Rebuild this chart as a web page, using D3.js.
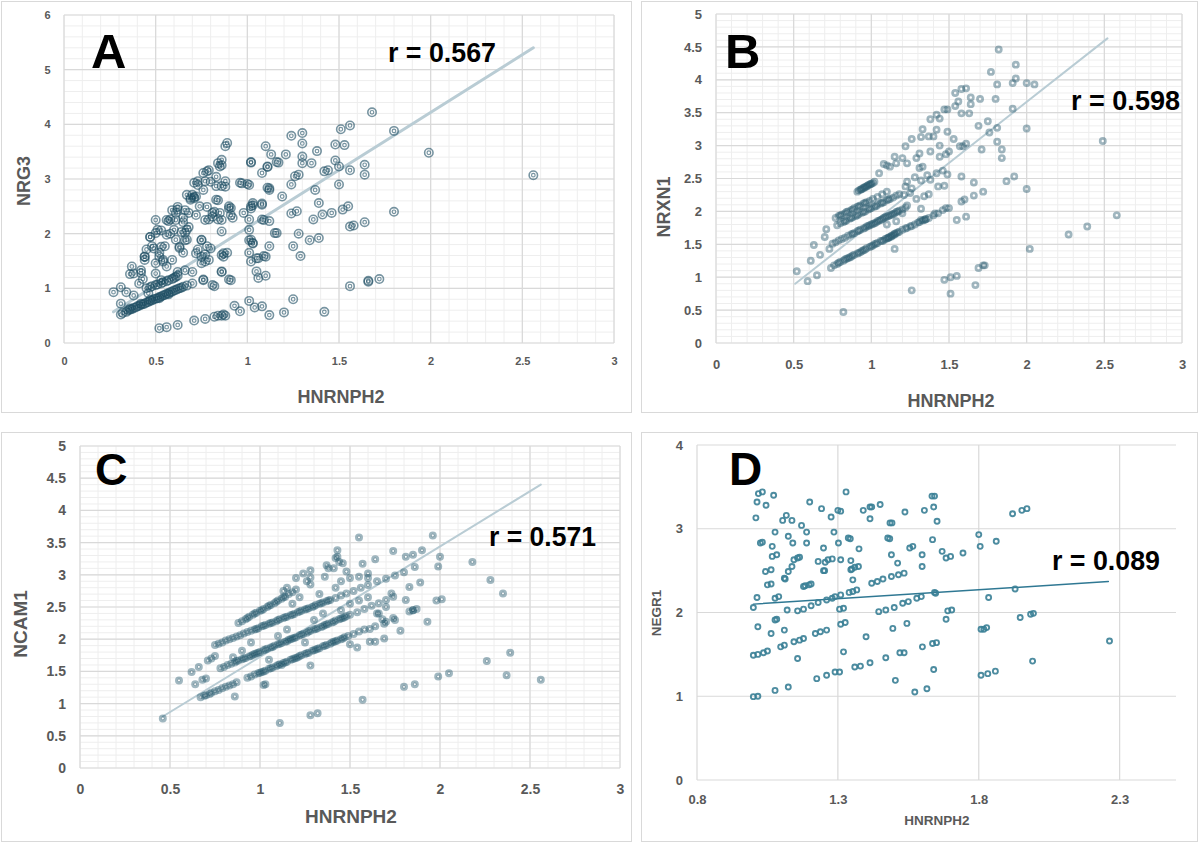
<!DOCTYPE html>
<html><head><meta charset="utf-8">
<script src="https://cdn.jsdelivr.net/npm/d3@7"></script>
<style>body{margin:0;background:#fff;}svg{display:block;}</style>
</head><body>
<svg id="chart" width="1200" height="842"></svg>
<script>
// ---------------- DATA ----------------
const xLabel = "HNRNPH2";
const yLabelA = "NRG3", yLabelB = "NRXN1", yLabelC = "NCAM1", yLabelD = "NEGR1";
const rA = "r = 0.567", rB = "r = 0.598", rC = "r = 0.571", rD = "r = 0.089";

const xTicksABC = [0,0.5,1,1.5,2,2.5,3];
const xTickLabelsABC = ["0","0.5","1","1.5","2","2.5","3"];
const yTicksA = [0,1,2,3,4,5,6];
const yTickLabelsA = ["0","1","2","3","4","5","6"];
const yTicksBC = [0,0.5,1,1.5,2,2.5,3,3.5,4,4.5,5];
const yTickLabelsBC = ["0","0.5","1","1.5","2","2.5","3","3.5","4","4.5","5"];
const xTicksD = [0.8,1.3,1.8,2.3];
const xTickLabelsD = ["0.8","1.3","1.8","2.3"];
const yTicksD = [0,1,2,3,4];
const yTickLabelsD = ["0","1","2","3","4"];

const trendA = [[0.27,0.57],[2.56,5.40]];
const trendB = [[0.51,0.90],[2.52,4.63]];
const trendC = [[0.46,0.80],[2.56,4.40]];
const trendD = [[1.00,2.10],[2.26,2.37]];

const pointsA = [
[0.52,0.27],[0.56,0.29],[0.62,0.33],[0.71,0.41],[0.77,0.44],[0.82,0.48],[0.84,0.5],[0.86,0.5],[0.87,0.52],[0.88,0.5],[0.93,0.68],[0.96,0.58],[1.01,0.77],[1.04,0.65],[1.08,0.67],[1.12,0.51],[1.2,0.56],[1.25,0.8],[1.42,0.57],
[0.31,0.52],[0.32,0.55],[0.34,0.57],[0.35,0.6],[0.36,0.61],[0.37,0.62],[0.38,0.64],[0.39,0.65],[0.4,0.67],[0.41,0.68],[0.42,0.7],[0.43,0.71],[0.44,0.72],[0.45,0.74],[0.46,0.75],[0.47,0.77],[0.48,0.78],[0.49,0.8],[0.5,0.81],[0.51,0.82],[0.52,0.84],[0.53,0.85],[0.54,0.87],[0.55,0.88],[0.56,0.9],[0.57,0.91],[0.58,0.93],[0.59,0.94],[0.6,0.96],[0.61,0.97],[0.63,1.0],[0.64,1.01],[0.65,1.03],[0.67,1.05],[0.36,0.63],[0.42,0.72],[0.47,0.79],[0.52,0.82],[0.57,0.89],[0.62,0.99],[0.31,0.72],
[0.45,1.0],[0.47,1.02],[0.48,1.04],[0.5,1.06],[0.51,1.07],[0.53,1.09],[0.54,1.11],[0.56,1.13],[0.57,1.15],[0.59,1.17],[0.6,1.19],[0.61,1.21],[0.62,1.23],
[0.27,0.93],[0.31,1.02],[0.34,0.93],[0.37,1.40],[0.36,1.26],[0.38,0.87],[0.42,1.28],[0.43,1.17],[0.44,1.52],[0.44,1.58],[0.45,1.71],[0.47,1.94],[0.48,1.77],[0.50,2.01],[0.51,2.07],[0.52,1.65],[0.50,1.46],[0.54,1.52],[0.55,1.77],[0.56,1.98],[0.57,2.23],[0.58,2.26],[0.60,2.07],[0.61,2.38],[0.62,2.44],[0.61,1.89],[0.63,1.74],[0.65,1.65],[0.67,1.89],[0.66,2.01],[0.67,2.07],[0.65,2.29],[0.68,2.38],[0.69,2.62],[0.70,2.71],[0.71,2.65],[0.72,2.68],[0.71,2.93],[0.73,2.96],[0.74,2.5],[0.76,2.80],[0.77,2.96],[0.76,3.11],[0.78,3.14],[0.75,1.89],[0.73,1.71],[0.77,1.62],[0.75,1.46],[0.79,1.52],[0.78,1.77],[0.79,2.26],[0.81,2.38],[0.82,1.04],[0.76,1.16],[0.83,2.62],[0.83,2.87],[0.84,3.29],[0.85,3.23],[0.86,3.35],[0.88,3.60],[0.89,3.66],[0.86,2.87],[0.88,2.96],[0.85,2.38],[0.84,2.26],[0.86,2.04],[0.89,1.65],[0.87,1.58],[0.86,1.31],[0.90,1.16],[0.90,2.5],[0.91,2.47],[0.92,2.29],[0.96,2.93],[1.00,2.91],[0.98,2.38],[1.01,2.07],[1.02,1.89],[1.01,1.65],[1.02,1.49],[1.05,1.31],[1.06,1.19],[1.10,1.23],[1.09,1.59],[1.05,1.55],[1.03,1.83],[1.01,2.26],[1.02,2.5],[1.03,2.56],[1.08,2.53],[1.08,2.26],[1.12,2.23],[1.11,2.84],[1.12,2.80],[1.08,3.11],[1.11,3.23],[1.13,3.45],[1.10,3.60],[1.02,3.30],[1.12,1.77],[1.15,2.01],[1.17,3.30],[1.19,2.68],[1.21,3.45],[1.24,2.37],[1.24,2.90],[1.26,3.05],[1.28,3.08],[1.24,3.79],[1.30,3.84],[1.30,3.65],[1.30,3.41],[1.30,3.29],[1.27,2.41],[1.25,1.77],[1.28,2.0],[1.29,1.59],[1.34,1.88],[1.36,2.26],[1.37,2.80],[1.35,3.29],[1.38,3.51],[1.39,2.56],[1.39,1.92],[1.41,2.35],[1.42,3.14],[1.44,3.16],[1.46,2.38],[1.48,3.63],[1.48,3.34],[1.50,3.23],[1.50,2.90],[1.51,3.91],[1.56,3.98],[1.53,3.62],[1.52,2.44],[1.55,2.5],[1.56,3.16],[1.56,2.13],[1.58,2.15],[1.56,1.04],[1.64,2.21],[1.64,3.26],[1.64,3.08],[1.66,1.12],[1.66,1.14],[1.72,1.17],[1.68,4.22],[1.80,3.88],[1.80,2.40],[1.99,3.48],[2.56,3.07],
[0.38,1.27],[0.41,1.09],[0.44,1.58],[0.47,1.94],[0.49,1.73],[0.52,1.58],[0.53,1.76],[0.54,1.49],[0.56,2.25],[0.58,2.00],[0.59,2.43],[0.61,2.25],[0.63,1.76],[0.64,2.03],[0.66,1.88],[0.67,2.71],[0.69,2.65],[0.71,2.67],[0.72,2.34],[0.68,2.12],[0.65,2.21],[0.62,2.49],[0.56,1.40],[0.59,1.52],[0.62,1.30],[0.66,1.33],[0.70,1.30],[0.72,1.64],[0.75,1.88],[0.77,2.25],[0.78,2.49],[0.73,2.89],[0.79,3.16],[0.80,2.95],[0.83,3.04],[0.86,3.25],[0.88,2.86],[0.82,2.40],[0.84,2.61],[0.75,1.58],[0.80,1.73],[0.77,1.49],[0.50,1.27],[0.53,1.15],[0.46,0.91],[0.42,1.33],[0.53,2.06],[0.50,2.25],[0.66,2.43],[0.81,2.31],[0.86,2.25],[0.90,2.46],[0.91,2.34],[0.97,2.92],[1.01,2.89],[1.02,2.46],[1.03,2.52],[1.08,2.55],[1.09,2.25],[1.12,2.83],[1.11,3.22],[1.16,3.31],[1.02,3.31],[1.01,1.88],[1.03,1.82],[1.06,1.55],[1.10,1.58],[1.16,2.01],[0.86,1.61],[0.87,1.64],[0.86,1.30],[0.91,1.15],[0.81,1.06],[0.76,1.15],[0.70,1.09]
];

const pointsB = [
[0.52,1.09],[0.59,0.94],[0.65,1.03],[0.61,1.25],[0.63,1.49],[0.67,1.34],[0.73,1.43],[0.71,1.73],[0.70,1.61],[0.74,1.14],[0.82,0.47],[1.26,0.80],[1.47,0.96],[1.51,1.00],[1.55,1.02],[1.51,0.75],[1.67,0.88],[1.69,1.14],[1.72,1.18],[1.73,1.18],
[1.15,1.43],[1.10,1.80],[1.16,1.85],[1.20,1.97],[1.23,2.09],[1.21,2.25],[1.32,2.04],[1.35,1.88],[1.41,1.97],[1.34,2.23],[1.37,2.26],[1.43,2.38],[1.47,2.39],[1.49,2.56],[1.46,2.62],[1.42,2.58],[1.38,2.48],[1.32,2.47],[1.29,2.19],[1.23,2.45],[1.22,2.38],[1.16,2.73],[1.12,2.68],[1.10,2.70],[1.15,2.83],[1.20,2.81],[1.23,2.73],[1.22,2.99],[1.26,3.10],[1.29,2.81],[1.31,2.88],[1.31,2.66],[1.33,2.68],[1.33,3.25],[1.32,3.13],[1.38,2.91],[1.37,3.14],[1.40,3.14],[1.42,3.24],[1.44,3.00],[1.44,2.83],[1.48,2.87],[1.50,2.91],[1.49,3.21],[1.44,3.41],[1.38,3.40],[1.42,3.47],[1.47,3.55],[1.49,3.55],[1.54,3.60],[1.53,3.10],[1.57,2.99],[1.59,2.99],[1.61,3.03],[1.54,3.80],[1.58,3.86],[1.61,3.87],[1.56,3.67],[1.58,3.49],[1.63,3.49],[1.64,3.63],[1.64,3.73],[1.70,3.71],[1.80,3.71],[1.69,3.30],[1.76,3.20],[1.75,3.37],[1.81,3.27],[1.71,2.94],[1.81,3.06],[1.84,2.94],[1.84,2.81],[1.77,4.12],[1.82,4.46],[1.81,3.93],[1.91,3.95],[1.93,4.23],[1.93,4.02],[2.00,3.95],[2.05,3.93],[1.91,3.56],[2.00,3.26],[1.87,2.46],[1.92,2.53],[2.00,2.34],[2.02,1.43],[2.27,1.65],[2.39,1.77],[2.49,3.07],[2.58,1.94],[1.66,2.44],[1.66,2.24],[1.72,2.30],[1.58,2.53],[1.58,2.15],[1.60,2.18],[1.55,1.87],[1.61,1.92],[1.48,2.05],[1.50,2.05],[1.32,1.87],[1.28,2.52],[1.26,2.35],[1.36,2.55],[1.05,2.58],[1.08,2.72],[1.25,2.28],
[0.76,1.18],[0.78,1.2],[0.80,1.23],[0.82,1.25],[0.83,1.27],[0.85,1.29],[0.86,1.3],[0.88,1.33],[0.89,1.34],[0.91,1.36],[0.92,1.37],[0.94,1.4],[0.96,1.42],[0.97,1.44],[0.99,1.46],[1.00,1.47],[1.02,1.5],[1.04,1.52],[1.06,1.55],[1.08,1.56],[1.10,1.59],[1.12,1.61],[1.13,1.63],[1.14,1.64],[1.15,1.65],[1.16,1.67],[1.17,1.68],[1.20,1.72],[1.23,1.75],[1.26,1.78],[1.28,1.80],[1.30,1.83],[1.33,1.86],[1.35,1.88],[1.37,1.9],[1.40,1.94],[1.43,1.97],[1.46,2.02],[0.84,1.28],[0.93,1.38],[1.01,1.48],[1.11,1.6],
[0.79,1.22],[0.87,1.31],[0.95,1.41],[1.03,1.51],[1.07,1.55],[1.09,1.58],[1.11,1.6],[1.13,1.62],[1.15,1.66],[1.18,1.69],[1.22,1.74],[1.25,1.77],[1.31,1.84],[1.34,1.87],
[0.75,1.51],[0.77,1.53],[0.79,1.56],[0.81,1.58],[0.83,1.6],[0.85,1.63],[0.87,1.65],[0.89,1.67],[0.91,1.7],[0.93,1.72],[0.95,1.74],[0.97,1.77],[0.99,1.79],[1.0,1.8],[1.02,1.82],[1.04,1.85],[1.06,1.87],[1.08,1.9],[1.1,1.92],[1.12,1.94],[1.14,1.96],[1.16,1.99],[1.18,2.01],[1.2,2.03],[1.22,2.06],[1.01,1.81],[1.05,1.86],[1.09,1.91],
[0.88,1.66],[0.92,1.71],[0.96,1.75],[0.98,1.78],[1.03,1.83],[1.07,1.88],[1.11,1.93],[1.13,1.95],[1.15,1.97],[1.17,2.0],
[0.78,1.79],[0.8,1.82],[0.82,1.84],[0.84,1.86],[0.86,1.89],[0.88,1.91],[0.9,1.93],[0.92,1.96],[0.94,1.98],[0.96,2.0],[0.98,2.03],[1.0,2.05],[1.02,2.07],[1.04,2.1],[1.06,2.12],[1.08,2.14],[1.1,2.17],[1.12,2.19],[1.14,2.21],[1.16,2.24],[1.18,2.26],
[0.83,1.85],[0.87,1.9],[0.91,1.94],[0.95,1.99],[0.99,2.04],[1.03,2.08],[1.07,2.13],[1.11,2.18],
[0.77,1.9],[0.79,1.93],[0.81,1.95],[0.83,1.97],[0.85,2.0],[0.87,2.02],[0.89,2.05],[0.91,2.07],[0.93,2.09],[0.95,2.12],[0.97,2.14],[0.99,2.16],[1.01,2.19],[1.04,2.22],[1.07,2.26],[1.1,2.3],
[0.8,1.94],[0.84,1.99],[0.88,2.03],[0.92,2.08],[0.96,2.13],
[0.91,2.3],[0.92,2.32],[0.93,2.33],[0.94,2.34],[0.95,2.36],[0.96,2.37],[0.97,2.38],[0.98,2.4],[0.99,2.41],[1.0,2.42],[1.01,2.43],[1.02,2.45],
[0.935,2.335],[0.955,2.36],[0.975,2.39],[0.995,2.415]
];

const pointsC = [
[0.46,0.77],[0.55,1.36],[0.64,1.30],[0.62,1.49],[0.66,1.57],[0.86,1.11],[1.11,0.70],[1.28,0.82],[1.32,0.85],[1.28,1.59],[1.57,1.06],[1.54,1.87],[1.50,1.92],[1.55,3.58],[1.96,3.61],[1.80,1.26],[1.86,1.30],[1.99,1.42],[2.05,1.47],[2.26,1.66],[2.39,1.79],[2.37,1.44],[2.56,1.37],[2.35,2.71],[2.28,2.92],[2.18,3.20],[2.00,3.28],[1.99,3.13],[2.01,2.62],[1.98,2.60],[1.93,2.27],[1.89,2.88],[1.90,3.38],[1.86,3.12],[1.83,2.81],[1.85,3.31],[1.81,3.28],[1.74,3.37],[1.78,2.13],[1.81,2.61],[1.85,2.45],[1.69,2.01],[1.64,1.96],[1.61,1.96],[1.64,3.24],[1.57,3.17],[1.55,2.97],[1.60,3.02],[1.43,3.38],[1.43,3.28],[1.46,3.18],[1.41,3.10],[1.37,3.15],[1.36,2.97],[1.28,3.07],[1.24,3.02],[1.28,2.96],[1.48,3.05],[1.73,2.71],[1.68,2.31],[1.66,2.40],[1.69,2.24],[1.03,1.30],[1.02,1.29],
[0.67,1.1],[0.69,1.12],[0.7,1.13],[0.72,1.15],[0.73,1.17],[0.75,1.19],[0.77,1.21],[0.79,1.24],[0.81,1.26],[0.83,1.28],[0.85,1.3],[0.87,1.33],[0.93,1.4],[0.95,1.42],[0.97,1.45],[0.99,1.47],[1.01,1.49],[1.03,1.51],[1.05,1.54],[1.07,1.56],[1.09,1.58],[1.11,1.61],[1.13,1.63],[1.15,1.65],[1.17,1.68],[1.19,1.7],[1.21,1.72],[1.23,1.75],[1.25,1.77],[1.27,1.79],[1.29,1.82],[1.31,1.84],[1.33,1.86],[1.35,1.89],[1.37,1.91],[1.39,1.93],[1.41,1.96],[1.43,1.98],[1.45,2.0],[1.47,2.03],[1.49,2.05],[1.52,2.08],[1.55,2.12],[1.58,2.15],[1.61,2.16],[1.64,2.2],[1.7,2.27],[1.74,2.33],[1.83,2.43],[1.85,2.45],[1.87,2.47],[1.0,1.48],[1.12,1.6],[1.2,1.71],[1.3,1.83],[1.4,1.95],
[1.02,1.5],[1.06,1.55],[1.1,1.6],[1.14,1.64],[1.18,1.69],[1.22,1.74],[1.26,1.78],[1.32,1.85],[1.36,1.9],[1.42,1.97],[1.46,2.01],
[0.78,1.55],[0.8,1.57],[0.82,1.6],[0.84,1.62],[0.86,1.64],[0.88,1.67],[0.9,1.69],[0.92,1.71],[0.94,1.73],[0.96,1.76],[0.98,1.78],[1.0,1.8],[1.02,1.83],[1.04,1.85],[1.06,1.87],[1.08,1.9],[1.1,1.92],[1.12,1.94],[1.14,1.96],[1.16,1.99],[1.18,2.01],[1.2,2.03],[1.22,2.06],[1.24,2.08],[1.26,2.1],[1.28,2.13],[1.3,2.15],[1.32,2.17],[1.34,2.19],[1.36,2.22],[1.38,2.24],[1.4,2.26],[1.42,2.29],[1.44,2.31],[1.46,2.33],[1.48,2.36],[1.5,2.38],[1.54,2.42],[1.58,2.47],[1.62,2.52],[1.66,2.56],[1.7,2.61],[1.74,2.66],[0.97,1.77],[1.07,1.88],[1.17,2.0],[1.27,2.12],[1.37,2.23],
[0.87,1.66],[0.91,1.7],[0.95,1.74],[0.99,1.79],[1.03,1.84],[1.11,1.93],[1.15,1.97],[1.19,2.02],[1.23,2.07],[1.31,2.16],[1.35,2.2],[1.41,2.27],[1.45,2.32],[1.47,2.34],
[0.75,1.91],[0.77,1.93],[0.79,1.95],[0.81,1.98],[0.83,2.0],[0.85,2.02],[0.87,2.04],[0.89,2.06],[0.91,2.09],[0.93,2.11],[0.95,2.13],[0.97,2.15],[0.99,2.17],[1.01,2.2],[1.03,2.22],[1.05,2.24],[1.07,2.26],[1.09,2.28],[1.11,2.31],[1.13,2.33],[1.15,2.35],[1.17,2.37],[1.19,2.39],[1.21,2.42],[1.23,2.44],[1.25,2.46],[1.27,2.48],[1.29,2.5],[1.31,2.53],[1.33,2.55],[1.35,2.57],[1.37,2.59],[1.39,2.61],[1.42,2.64],[1.45,2.68],[1.48,2.71],[1.52,2.75],[1.56,2.8],[1.6,2.84],[1.65,2.9],[1.7,2.94],[1.75,2.99],[1.8,3.04],
[0.98,2.16],[1.02,2.21],[1.06,2.25],[1.1,2.3],[1.14,2.34],[1.18,2.38],[1.22,2.43],[1.26,2.47],[1.3,2.51],[1.34,2.56],[1.38,2.6],
[0.88,2.25],[0.9,2.28],[0.92,2.31],[0.94,2.35],[0.96,2.38],[0.98,2.41],[1.0,2.44],[1.02,2.47],[1.04,2.5],[1.06,2.53],[1.08,2.56],[1.1,2.6],[1.12,2.63],[1.14,2.66],[1.16,2.7],[1.18,2.73],[1.2,2.77],
[0.93,2.33],[0.97,2.4],[1.01,2.45],[1.05,2.52],[1.09,2.58],[1.13,2.65],
[0.68,1.37],[0.7,1.39],[0.71,1.67],[0.73,1.7],[0.75,1.74],[0.85,1.72],[0.9,1.82],[0.95,1.95],[1.05,1.68],[1.1,2.05],[1.15,2.15],[1.25,1.95],[1.3,2.3],[1.35,2.4],[1.45,2.45],[1.5,2.55],[1.55,2.6],[1.28,2.85],[1.33,2.7],[1.42,2.8],[1.45,2.9],[1.5,2.95],[1.6,2.65],[1.65,2.4],[1.7,2.5],[1.75,2.3],[1.6,2.95],[1.18,2.55],[1.22,2.65],[1.13,2.75],[1.15,2.8],[1.2,2.95],[1.26,2.9],[1.38,3.1],[1.44,3.2],[1.42,3.26]
];

const pointsD = [
[1.0,0.995],[1.016,1.0],[1.077,1.07],[1.124,1.11],[1.225,1.21],[1.26,1.25],[1.29,1.29],[1.306,1.29],[1.36,1.35],[1.38,1.36],[1.414,1.40],[1.47,1.46],[1.52,1.52],[1.535,1.52],[1.60,1.59],[1.636,1.63],[1.65,1.64],
[1.0,1.49],[1.016,1.50],[1.036,1.52],[1.05,1.54],[1.097,1.59],[1.11,1.61],[1.144,1.65],[1.164,1.67],[1.178,1.69],[1.22,1.75],[1.238,1.77],[1.26,1.79],[1.31,1.86],[1.326,1.88],[1.445,2.01],[1.47,2.03],[1.50,2.06],[1.53,2.11],[1.55,2.13],[1.58,2.17],[1.596,2.19],[1.643,2.24],
[1.016,1.83],[1.077,1.91],[1.083,1.92],[1.157,2.02],[1.178,2.04],[1.205,2.08],[1.23,2.12],[1.26,2.15],[1.28,2.17],[1.29,2.19],[1.31,2.21],[1.34,2.24],[1.353,2.25],[1.367,2.27],[1.42,2.35],[1.44,2.37],[1.46,2.40],[1.49,2.43],[1.515,2.45],[1.535,2.47],
[1.05,2.33],[1.063,2.34],[1.043,2.49],[1.063,2.51],[1.11,2.41],[1.124,2.49],[1.137,2.55],[1.144,2.63],[1.157,2.65],[1.164,2.66],[1.178,2.31],[1.184,2.32],[1.198,2.33],[1.205,2.34],[1.255,2.60],[1.265,2.63],[1.28,2.64],[1.346,2.51],[1.36,2.54],[1.373,2.55],[1.346,2.62],
[1.009,3.13],[1.013,3.32],[1.018,3.42],[1.032,3.44],[1.025,2.83],[1.032,2.84],[1.045,3.28],[1.072,3.40],[1.077,2.96],[1.067,2.79],[1.067,2.67],[1.083,2.69],[1.063,1.75],[1.11,1.79],[1.104,3.10],[1.117,3.16],[1.124,2.91],[1.137,3.10],[1.14,2.83],[1.171,3.04],[1.189,2.96],[1.189,2.83],[1.20,3.32],[1.157,1.45],
[1.242,3.24],[1.249,2.77],[1.253,2.50],[1.276,3.14],[1.286,2.96],[1.30,3.22],[1.31,3.21],[1.302,2.83],[1.306,2.04],[1.32,2.05],[1.32,1.53],[1.329,3.44],[1.337,2.89],[1.344,2.88],[1.35,2.52],[1.353,2.39],[1.375,2.76],[1.39,3.22],[1.40,1.71],[1.414,3.26],[1.42,3.26],[1.414,3.12],[1.45,3.29],[1.485,3.07],[1.492,3.07],[1.477,2.89],[1.484,2.88],[1.49,2.69],[1.495,1.81],[1.504,1.19],[1.512,2.59],[1.538,3.20],[1.545,1.87],[1.555,2.77],[1.566,2.79],[1.573,1.05],[1.599,2.69],[1.599,2.55],[1.607,3.22],[1.616,1.09],[1.634,3.39],[1.64,3.26],[1.643,3.39],[1.636,2.87],[1.64,1.32],[1.647,2.23],[1.652,3.09],[1.67,2.73],[1.684,2.65],[1.684,1.92],[1.69,2.02],[1.70,2.67],[1.704,2.03],[1.744,2.71],[1.80,2.93],[1.805,2.79],[1.808,1.80],[1.818,1.80],[1.828,1.82],[1.808,1.25],[1.832,1.27],[1.859,1.30],[1.835,2.18],[1.862,2.85],[1.92,3.18],[1.953,3.22],[1.971,3.24],[1.929,2.28],[1.947,1.94],[1.984,1.98],[1.994,1.99],[1.991,1.42],[2.264,1.66],
[1.0,2.06],[1.013,2.18],[1.113,2.40],[1.077,2.17],[1.09,2.19],[1.249,2.50],[1.31,2.63],[1.12,2.03],[1.23,2.61]
];

// ---------------- LAYOUT / STYLE ----------------
const svg = d3.select("#chart");
const FONT = "'Liberation Sans', Arial, sans-serif";
const GREY = "#595959";

const panels = [
 {frame:[1,1,631,412], left:64, right:614, top:15, bottom:343, xDom:[0,3], yDom:[0,6],
  xT:xTicksABC, xL:xTickLabelsABC, yT:yTicksA, yL:yTickLabelsA, minorX:0.1, minorY:0.2,
  tickFont:11, xBase:22, yPad:13.5, data:pointsA, trend:trendA, marker:"double",
  trendColor:"#b9ccd4", trendW:3,
  xTitle:{x:341,y:403,size:18}, yTitle:{x:30,y:181,size:18,text:yLabelA},
  letter:{t:"A",x:91,y:68,size:49}, r:{t:rA,x:388,y:62,len:108}},
 {frame:[641,1,1197,412], left:716, right:1182, top:14, bottom:343, xDom:[0,3], yDom:[0,5],
  xT:xTicksABC, xL:xTickLabelsABC, yT:yTicksBC, yL:yTickLabelsBC, minorX:0.1, minorY:0.1,
  tickFont:13, xBase:26, yPad:14, data:pointsB, trend:trendB, marker:"ringB",
  trendColor:"#b9ccd4", trendW:2,
  xTitle:{x:951,y:407,size:18}, yTitle:{x:670,y:207,size:18,text:yLabelB},
  letter:{t:"B",x:725,y:68,size:49}, r:{t:rB,x:1071,y:110,len:109}},
 {frame:[1,432,631,841], left:80, right:620, top:446, bottom:768, xDom:[0,3], yDom:[0,5],
  xT:xTicksABC, xL:xTickLabelsABC, yT:yTicksBC, yL:yTickLabelsBC, minorX:0.1, minorY:0.1,
  tickFont:14, xBase:26, yPad:14, data:pointsC, trend:trendC, marker:"ringC",
  trendColor:"#b9ccd4", trendW:2,
  xTitle:{x:351,y:823,size:19}, yTitle:{x:27,y:624,size:19,text:yLabelC},
  letter:{t:"C",x:95,y:485,size:45}, r:{t:rC,x:489,y:546,len:107}},
 {frame:[641,432,1197,841], left:697, right:1176, top:445, bottom:780, xDom:[0.8,2.5], yDom:[0,4],
  xT:xTicksD, xL:xTickLabelsD, yT:yTicksD, yL:yTickLabelsD, minorX:null, minorY:null,
  tickFont:13, xBase:24, yPad:14, data:pointsD, trend:trendD, marker:"ringD",
  trendColor:"#2f7893", trendW:1.5,
  xTitle:{x:937,y:825,size:13.5}, yTitle:{x:661,y:613,size:13.5,text:yLabelD},
  letter:{t:"D",x:729,y:485,size:46}, r:{t:rD,x:1052,y:570,len:108}}
];

panels.forEach(p => {
  const g = svg.append("g");
  const [fx0,fy0,fx1,fy1] = p.frame;
  g.append("rect").attr("x",fx0+0.5).attr("y",fy0+0.5).attr("width",fx1-fx0).attr("height",fy1-fy0)
    .attr("fill","#fff").attr("stroke","#d9d9d9").attr("stroke-width",1);

  const x = d3.scaleLinear().domain(p.xDom).range([p.left,p.right]);
  const y = d3.scaleLinear().domain(p.yDom).range([p.bottom,p.top]);

  if (p.minorX) {
    const mx = d3.range(Math.round((p.xDom[1]-p.xDom[0])/p.minorX)+1).map(i => p.xDom[0]+i*p.minorX);
    g.selectAll(null).data(mx).join("line")
      .attr("x1",d=>x(d)).attr("x2",d=>x(d)).attr("y1",p.top).attr("y2",p.bottom)
      .attr("stroke","#eeeeee").attr("stroke-width",1);
  }
  if (p.minorY) {
    const my = d3.range(Math.round((p.yDom[1]-p.yDom[0])/p.minorY)+1).map(i => p.yDom[0]+i*p.minorY);
    g.selectAll(null).data(my).join("line")
      .attr("y1",d=>y(d)).attr("y2",d=>y(d)).attr("x1",p.left).attr("x2",p.right)
      .attr("stroke","#eeeeee").attr("stroke-width",1);
  }
  g.selectAll(null).data(p.xT).join("line")
    .attr("x1",d=>x(d)).attr("x2",d=>x(d)).attr("y1",p.top).attr("y2",p.bottom)
    .attr("stroke","#d9d9d9").attr("stroke-width",1.2);
  g.selectAll(null).data(p.yT).join("line")
    .attr("y1",d=>y(d)).attr("y2",d=>y(d)).attr("x1",p.left).attr("x2",p.right)
    .attr("stroke","#d9d9d9").attr("stroke-width",1.2);

  const ax = g.append("g").attr("transform",`translate(0,${p.bottom})`)
    .call(d3.axisBottom(x).tickValues(p.xT).tickFormat((d,i)=>p.xL[i]).tickSize(0));
  ax.select(".domain").remove();
  ax.selectAll("text").attr("y",p.xBase).attr("dy",null)
    .style("font-family",FONT).style("font-size",p.tickFont+"px").style("font-weight","bold").attr("fill",GREY);
  const ay = g.append("g").attr("transform",`translate(${p.left},0)`)
    .call(d3.axisLeft(y).tickValues(p.yT).tickFormat((d,i)=>p.yL[i]).tickSize(0).tickPadding(p.yPad));
  ay.select(".domain").remove();
  ay.selectAll("text").style("font-family",FONT).style("font-size",p.tickFont+"px").style("font-weight","bold").attr("fill",GREY);

  g.append("text").attr("x",p.xTitle.x).attr("y",p.xTitle.y).attr("text-anchor","middle")
    .style("font-family",FONT).style("font-size",p.xTitle.size+"px").style("font-weight","bold").attr("fill",GREY).text(xLabel);
  g.append("text").attr("transform",`translate(${p.yTitle.x},${p.yTitle.y}) rotate(-90)`).attr("text-anchor","middle")
    .style("font-family",FONT).style("font-size",p.yTitle.size+"px").style("font-weight","bold").attr("fill",GREY).text(p.yTitle.text);

  g.append("path").attr("d", d3.line().x(d=>x(d[0])).y(d=>y(d[1]))(p.trend))
    .attr("fill","none").attr("stroke",p.trendColor).attr("stroke-width",p.trendW).attr("stroke-linecap","round");

  const m = g.append("g");
  const cx = d=>x(d[0]), cy = d=>y(d[1]);
  if (p.marker === "double") {
    const col = "#1c4d62";
    m.selectAll(null).data(p.data).join("circle").attr("cx",cx).attr("cy",cy).attr("r",4.2)
      .attr("fill","none").attr("stroke",col).attr("stroke-opacity",0.6).attr("stroke-width",1.6);
    m.selectAll(null).data(p.data).join("circle").attr("cx",cx).attr("cy",cy).attr("r",1.8)
      .attr("fill","none").attr("stroke",col).attr("stroke-opacity",0.6).attr("stroke-width",1.2);
  } else if (p.marker === "ringB") {
    m.selectAll(null).data(p.data).join("circle").attr("cx",cx).attr("cy",cy).attr("r",2.6)
      .attr("fill","none").attr("stroke","#2c5e71").attr("stroke-opacity",0.45).attr("stroke-width",2.7);
  } else if (p.marker === "ringC") {
    m.selectAll(null).data(p.data).join("circle").attr("cx",cx).attr("cy",cy).attr("r",2.7)
      .attr("fill","none").attr("stroke","#2c5f73").attr("stroke-opacity",0.45).attr("stroke-width",2.6);
    m.selectAll(null).data(p.data).join("circle").attr("cx",cx).attr("cy",cy).attr("r",1.4)
      .attr("fill","none").attr("stroke","#1d4f63").attr("stroke-opacity",0.4).attr("stroke-width",0.9);
  } else {
    m.selectAll(null).data(p.data).join("circle").attr("cx",cx).attr("cy",cy).attr("r",2.5)
      .attr("fill","none").attr("stroke","#3a7f96").attr("stroke-opacity",0.9).attr("stroke-width",1.9);
  }

  g.append("text").attr("x",p.letter.x).attr("y",p.letter.y)
    .style("font-family",FONT).style("font-size",p.letter.size+"px").style("font-weight","bold").attr("fill","#000").text(p.letter.t);
  g.append("text").attr("x",p.r.x).attr("y",p.r.y).attr("textLength",p.r.len).attr("lengthAdjust","spacingAndGlyphs")
    .style("font-family",FONT).style("font-size","27px").style("font-weight","bold").attr("fill","#000").text(p.r.t);
});
</script>
</body></html>
